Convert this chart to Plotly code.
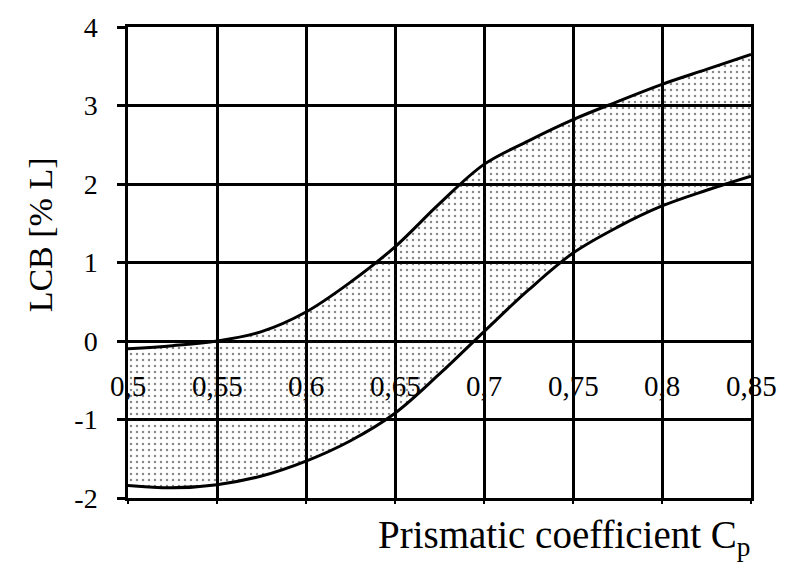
import plotly.graph_objects as go

cp = [0.5, 0.525, 0.55, 0.575, 0.6, 0.625, 0.65, 0.675, 0.7, 0.725, 0.75, 0.775, 0.8, 0.825, 0.85]
lcb_upper = [-0.1, -0.06, 0.0, 0.12, 0.37, 0.75, 1.2, 1.75, 2.25, 2.55, 2.82, 3.05, 3.27, 3.46, 3.65]
lcb_lower = [-1.84, -1.87, -1.83, -1.72, -1.53, -1.27, -0.92, -0.42, 0.12, 0.65, 1.12, 1.45, 1.72, 1.92, 2.1]

x_ticks = [0.5, 0.55, 0.6, 0.65, 0.7, 0.75, 0.8, 0.85]
x_labels = ["0,5", "0,55", "0,6", "0,65", "0,7", "0,75", "0,8", "0,85"]
y_ticks = [-2, -1, 0, 1, 2, 3, 4]
y_labels = ["-2", "-1", "0", "1", "2", "3", "4"]

FONT = "Liberation Serif, Times New Roman, serif"

fig = go.Figure()
fig.add_trace(go.Scatter(
    x=cp, y=lcb_lower, mode="lines", line=dict(color="black", width=3, shape="spline", smoothing=1.0),
    showlegend=False, hoverinfo="skip"))
fig.add_trace(go.Scatter(
    x=cp, y=lcb_upper, mode="lines", line=dict(color="black", width=3, shape="spline", smoothing=1.0),
    fill="tonexty", fillcolor="rgba(0,0,0,0)",
    fillpattern=dict(shape=".", fgcolor="#111111", bgcolor="rgba(0,0,0,0)", size=6, solidity=0.14, fillmode="overlay"),
    showlegend=False, hoverinfo="skip"))

for xv, lab in zip(x_ticks, x_labels):
    fig.add_annotation(x=xv, y=-0.57, xref="x", yref="y", text=lab, showarrow=False,
                       xanchor="center", yanchor="middle", font=dict(family=FONT, size=29, color="black"))

fig.add_annotation(x=1.003, y=-0.084, xref="paper", yref="paper",
                   text="Prismatic coefficient C<sub>p</sub>", showarrow=False,
                   xanchor="right", yanchor="middle", font=dict(family=FONT, size=39, color="black"))
fig.add_annotation(x=-0.141, y=0.558, xref="paper", yref="paper", text="LCB [% L]",
                   textangle=-90, showarrow=False, xanchor="center", yanchor="middle",
                   font=dict(family=FONT, size=34, color="black"))

fig.update_xaxes(range=[0.5, 0.85], tickvals=x_ticks, showticklabels=False,
                 showgrid=True, gridcolor="black", gridwidth=2.5,
                 showline=True, linecolor="black", linewidth=2.5, mirror=True,
                 ticks="outside", ticklen=3, tickcolor="black", tickwidth=1.5, zeroline=False)
fig.update_yaxes(range=[-2, 4], tickvals=y_ticks, ticktext=y_labels,
                 showgrid=True, gridcolor="black", gridwidth=2.5,
                 showline=True, linecolor="black", linewidth=2.5, mirror=True,
                 ticks="outside", ticklen=8, tickcolor="black", tickwidth=2.5,
                 ticklabelstandoff=14, ticklabeloverflow="allow",
                 tickfont=dict(family=FONT, size=28, color="black"), zeroline=False)

fig.update_layout(width=787, height=564, margin=dict(l=128, r=36, t=14, b=66),
                  paper_bgcolor="white", plot_bgcolor="white")
fig.write_html("out.html")
